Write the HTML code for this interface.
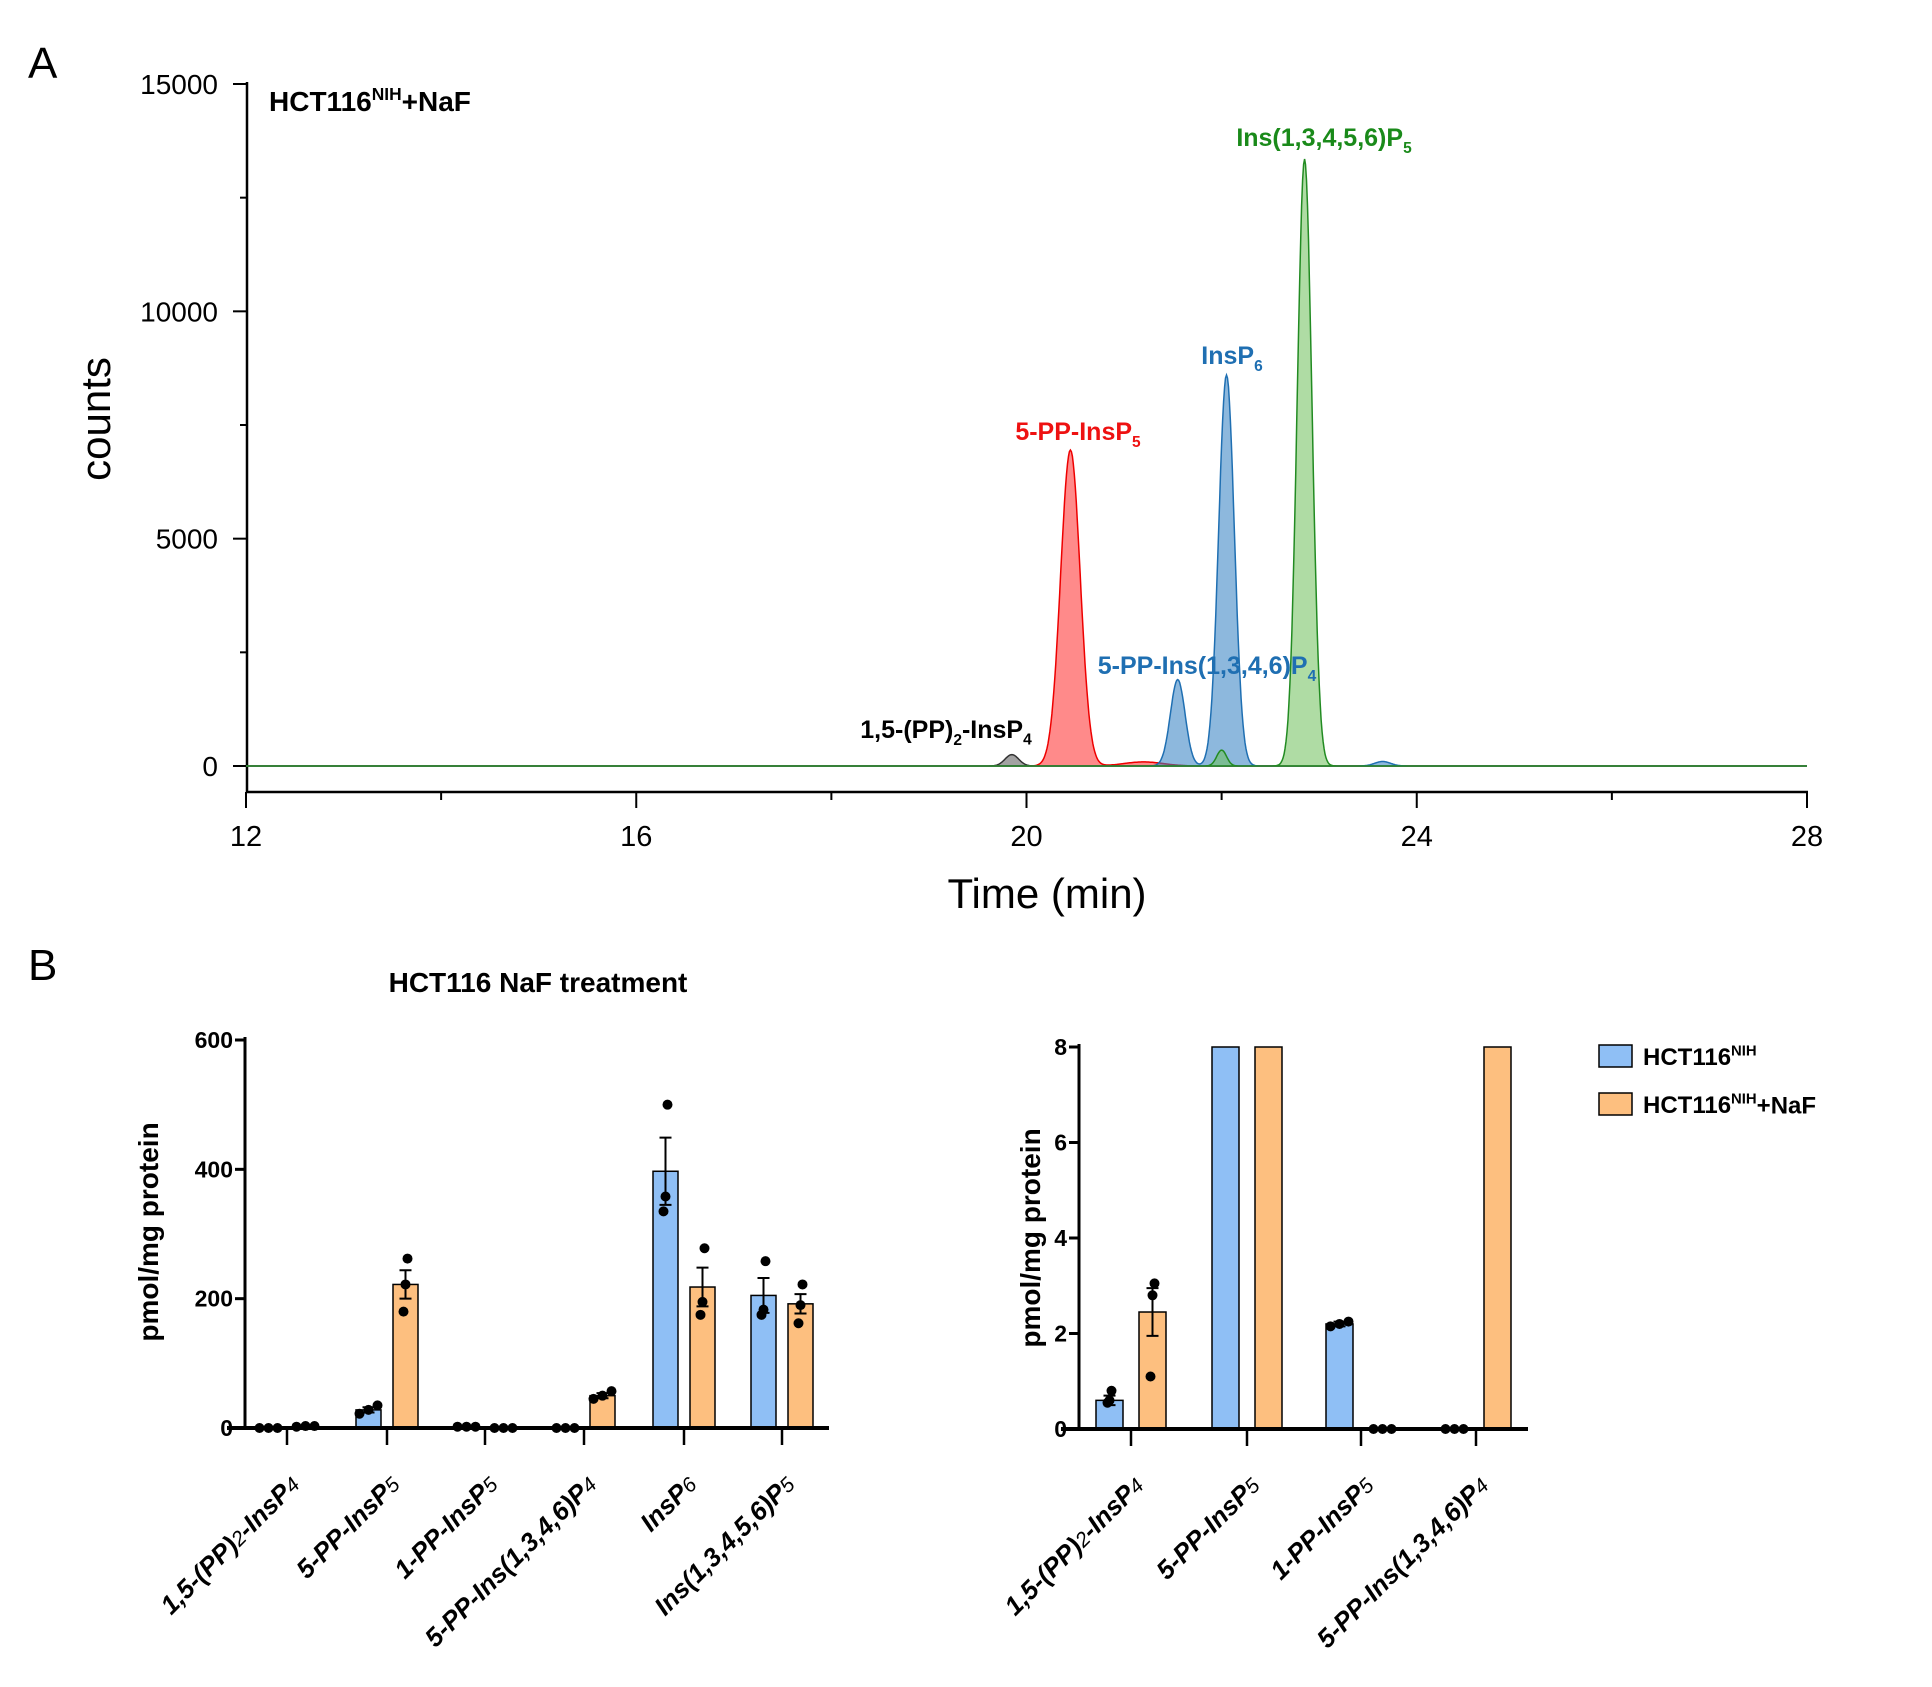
<!DOCTYPE html>
<html><head><meta charset="utf-8"><style>
body{margin:0;background:#fff}
svg{display:block;font-family:"Liberation Sans",sans-serif}
</style></head><body>
<svg id="fig" width="1932" height="1687" viewBox="0 0 1932 1687" xmlns="http://www.w3.org/2000/svg">
<rect width="1932" height="1687" fill="#fff"/>
<text x="28" y="78" font-size="44">A</text>
<text x="28" y="980" font-size="44">B</text>
<g id="pa"></g>
<g id="pbl"></g>
<g id="pbr"></g>
</svg>
<script>
// ---- Panel A data ----
const aXTicks=[12,16,20,24,28];
const aYTicks=[0,5000,10000,15000];
const grayPeaks=[[19.85,250,0.07]];
const redPeaks=[[20.45,6950,0.1],[21.2,90,0.2]];
const bluePeaks=[[21.55,1900,0.075],[22.05,8600,0.08],[23.65,100,0.08]];
const greenPeaks=[[22.0,350,0.05],[22.85,13350,0.075]];
// ---- Panel B data ----
const catsL=["1,5-(PP)2-InsP4","5-PP-InsP5","1-PP-InsP5","5-PP-Ins(1,3,4,6)P4","InsP6","Ins(1,3,4,5,6)P5"];
const blueL=[0.6,28,2.2,0,397,205];
const orangeL=[2.4,222,0,50,218,192];
const blueErrL=[0.2,4,0.1,0,52,27];
const orangeErrL=[0.5,22,0,4,30,15];
const blueDotsL=[[0,0,0],[22,28,35],[2,2,2],[0,0,0],[335,358,500],[175,183,258]];
const orangeDotsL=[[2,3,3],[180,222,262],[0,0,0],[45,50,57],[175,195,278],[162,190,222]];
const yTicksL=[0,200,400,600];
const catsR=["1,5-(PP)2-InsP4","5-PP-InsP5","1-PP-InsP5","5-PP-Ins(1,3,4,6)P4"];
const blueR=[0.6,28,2.2,0];
const orangeR=[2.45,222,0,50];
const blueErrR=[0.1,4,0.05,0];
const orangeErrR=[0.5,22,0,4];
const blueDotsR=[[0.55,0.6,0.8],[22,28,35],[2.15,2.2,2.25],[0,0,0]];
const orangeDotsR=[[1.1,2.8,3.05],[180,222,262],[0,0,0],[45,50,57]];
const yTicksR=[0,2,4,6,8];

const NS="http://www.w3.org/2000/svg";
function mk(p,t,a){const e=document.createElementNS(NS,t);for(const k in a)e.setAttribute(k,a[k]);p.appendChild(e);return e;}

// Panel A
const pa=document.getElementById('pa');
const ax=t=>246+(t-12)/16*(1807-246);
const ay=v=>766-v/15000*(766-84);
let e;
e=mk(pa,'line',{x1:247,y1:82,x2:247,y2:792,stroke:'#000','stroke-width':2.5});

e=mk(pa,'line',{x1:246,y1:792,x2:1808,y2:792,stroke:'#000','stroke-width':2.5});

for(let t=12;t<=28;t+=2){e=mk(pa,'line',{x1:ax(t),y1:792,x2:ax(t),y2:t%4==0?808:800,stroke:'#000','stroke-width':2});
}
aXTicks.forEach(t=>{e=mk(pa,'text',{x:ax(t),y:846,'font-size':29,'text-anchor':'middle'});e.textContent=t;
});
for(let v=0;v<=15000;v+=2500){e=mk(pa,'line',{x1:v%5000==0?233:240,y1:ay(v),x2:247,y2:ay(v),stroke:'#000','stroke-width':2});
}
aYTicks.forEach(v=>{e=mk(pa,'text',{x:218,y:ay(v)+10,'font-size':28,'text-anchor':'end'});e.textContent=v;
});
e=mk(pa,'text',{x:1047,y:908,'font-size':42,'text-anchor':'middle'});e.textContent='Time (min)';

e=mk(pa,'text',{x:0,y:0,'font-size':42,'text-anchor':'middle',transform:'translate(110,419) rotate(-90)'});e.textContent='counts';

function trace(peaks,fill,stroke,name){let d='M'+ax(12)+','+ay(0);let pts=[];
for(let t=12;t<=28.0001;t+=0.01){let v=0;peaks.forEach(p=>{v+=p[1]*Math.exp(-0.5*((t-p[0])/p[2])**2);});pts.push(ax(t).toFixed(1)+','+ay(v).toFixed(1));}
d+='L'+pts.join('L')+'L'+ax(28)+','+ay(0)+'Z';
e=mk(pa,'path',{d:d,fill:fill,'fill-opacity':0.55,stroke:stroke,'stroke-width':1.5});
}
trace(grayPeaks,'#555','#333','trace-gray');
trace(redPeaks,'#ff2a2a','#e00','trace-red');
trace(bluePeaks,'#2f7ec1','#1f6fb2','trace-blue');
trace(greenPeaks,'#6dbf5a','#228b22','trace-green');
function lab(p,x,y,parts,color,size,name,anchor){e=mk(p,'text',{x:x,y:y,'font-size':size,'font-weight':'bold',fill:color,'text-anchor':anchor||'start'});
parts.forEach(pt=>{const s=mk(e,'tspan',{});s.textContent=pt[0];if(pt[1]){s.setAttribute('font-size',size*0.62);s.setAttribute('dy',pt[1]=='sub'?size*0.27:-size*0.4);}else if(pt[2]){s.setAttribute('dy',pt[2]);}});
return e;}
lab(pa,269,111,[['HCT116'],['NIH','sup'],['+NaF','',11]],'#000',28,'panel-a-sample-label');
lab(pa,1324,146,[['Ins(1,3,4,5,6)P'],['5','sub']],'#1a8a1a',25,'label-ins13456p5','middle');
lab(pa,1232,364,[['InsP'],['6','sub']],'#1f6fb2',25,'label-insp6','middle');
lab(pa,1078,440,[['5-PP-InsP'],['5','sub']],'#ee1111',25,'label-5pp-insp5','middle');
lab(pa,1207,674,[['5-PP-Ins(1,3,4,6)P'],['4','sub']],'#1f6fb2',25,'label-5pp-ins1346p4','middle');
lab(pa,946,738,[['1,5-(PP)'],['2','sub'],['-InsP','',-7],['4','sub']],'#000',25,'label-15pp2-insp4','middle');

// Panel B
function catLabel(p,x,y,name,size){const m=name.match(/^(.*?)(\d)(-InsP)(\d)$/);
e=mk(p,'text',{x:0,y:0,'font-size':size,'font-weight':'bold','font-style':'italic','text-anchor':'end',transform:`translate(${x},${y}) rotate(-45)`});
const add=(s,sub)=>{const t=mk(e,'tspan',{});t.textContent=s;if(sub){t.setAttribute('font-size',size*0.8);t.setAttribute('font-weight','normal');}};
if(m){add(m[1]);add(m[2],1);add(m[3]);add(m[4],1);}else{const mm=name.match(/^(.*)([456])$/);add(mm[1]);add(mm[2],1);}
}
function bars(gid,cats,bv,ov,be,oe,bd,od,yt,ymax,x0,axY,topY,xEnd,tickXs,half,bw,ylab){
const g=document.getElementById(gid);const sy=v=>axY-Math.min(v,ymax)/ymax*(axY-topY);
e=mk(g,'line',{x1:x0,y1:topY-3,x2:x0,y2:axY,stroke:'#000','stroke-width':3});
yt.forEach(v=>{e=mk(g,'line',{x1:x0-10,y1:sy(v),x2:x0,y2:sy(v),stroke:'#000','stroke-width':3});
e=mk(g,'text',{x:x0-12,y:sy(v)+8,'font-size':23,'font-weight':'bold','text-anchor':'end'});e.textContent=v;});
e=mk(g,'text',{x:0,y:0,'font-size':28,'font-weight':'bold','text-anchor':'middle',transform:`translate(${ylab[0]},${ylab[1]}) rotate(-90)`});e.textContent='pmol/mg protein';

cats.forEach((c,i)=>{const cx=tickXs[i];
[[bv[i],be[i],bd[i],'#8fbff5',-half,'bar-hct116'],[ov[i],oe[i],od[i],'#fdbf7f',half,'bar-hct116-naf']].forEach(s=>{const bx=cx+s[4];
if(s[0]>0){e=mk(g,'rect',{x:bx-bw/2,y:sy(s[0]),width:bw,height:axY-sy(s[0]),fill:s[3],stroke:'#000','stroke-width':1.5});}
if(s[1]>0&&s[0]<ymax){e=mk(g,'path',{d:`M${bx},${sy(s[0]-s[1])}V${sy(s[0]+s[1])}M${bx-6},${sy(s[0]-s[1])}h12M${bx-6},${sy(s[0]+s[1])}h12`,stroke:'#000','stroke-width':2,fill:'none'});}
s[2].forEach((v,k)=>{if(v>ymax)return;const spread=s[2].every(q=>Math.abs(q-s[2][0])<ymax*0.03)?9:2;
e=mk(g,'circle',{cx:bx+(k-1)*spread,cy:sy(v),r:5,fill:'#000'});});});
e=mk(g,'line',{x1:cx,y1:axY,x2:cx,y2:axY+17,stroke:'#000','stroke-width':2.5});
catLabel(g,cx+14,axY+58,c,26);});
e=mk(g,'line',{x1:x0-18,y1:axY,x2:xEnd,y2:axY,stroke:'#000','stroke-width':4});}
bars('pbl',catsL,blueL,orangeL,blueErrL,orangeErrL,blueDotsL,orangeDotsL,yTicksL,600,245,1428,1040,829,[287,387,485,584,684,782],18.5,25,[158,1232]);
bars('pbr',catsR,blueR,orangeR,blueErrR,orangeErrR,blueDotsR,orangeDotsR,yTicksR,8,1079,1429,1047,1528,[1131,1247,1361,1476],21.5,27,[1040,1238]);
const pbl=document.getElementById('pbl');
e=mk(pbl,'text',{x:538,y:992,'font-size':28,'font-weight':'bold','text-anchor':'middle'});e.textContent='HCT116 NaF treatment';

// legend
const pbr=document.getElementById('pbr');
[['#8fbff5',1045,[['HCT116'],['NIH','sup']],'legend-entry-hct116'],['#fdbf7f',1093,[['HCT116'],['NIH','sup'],['+NaF','',10]],'legend-entry-hct116-naf']].forEach(l=>{
e=mk(pbr,'rect',{x:1599,y:l[1],width:33,height:22,fill:l[0],stroke:'#000','stroke-width':1.5});
lab(pbr,1643,l[1]+20,l[2],'#000',24,l[3]);});
</script>
</body></html>
